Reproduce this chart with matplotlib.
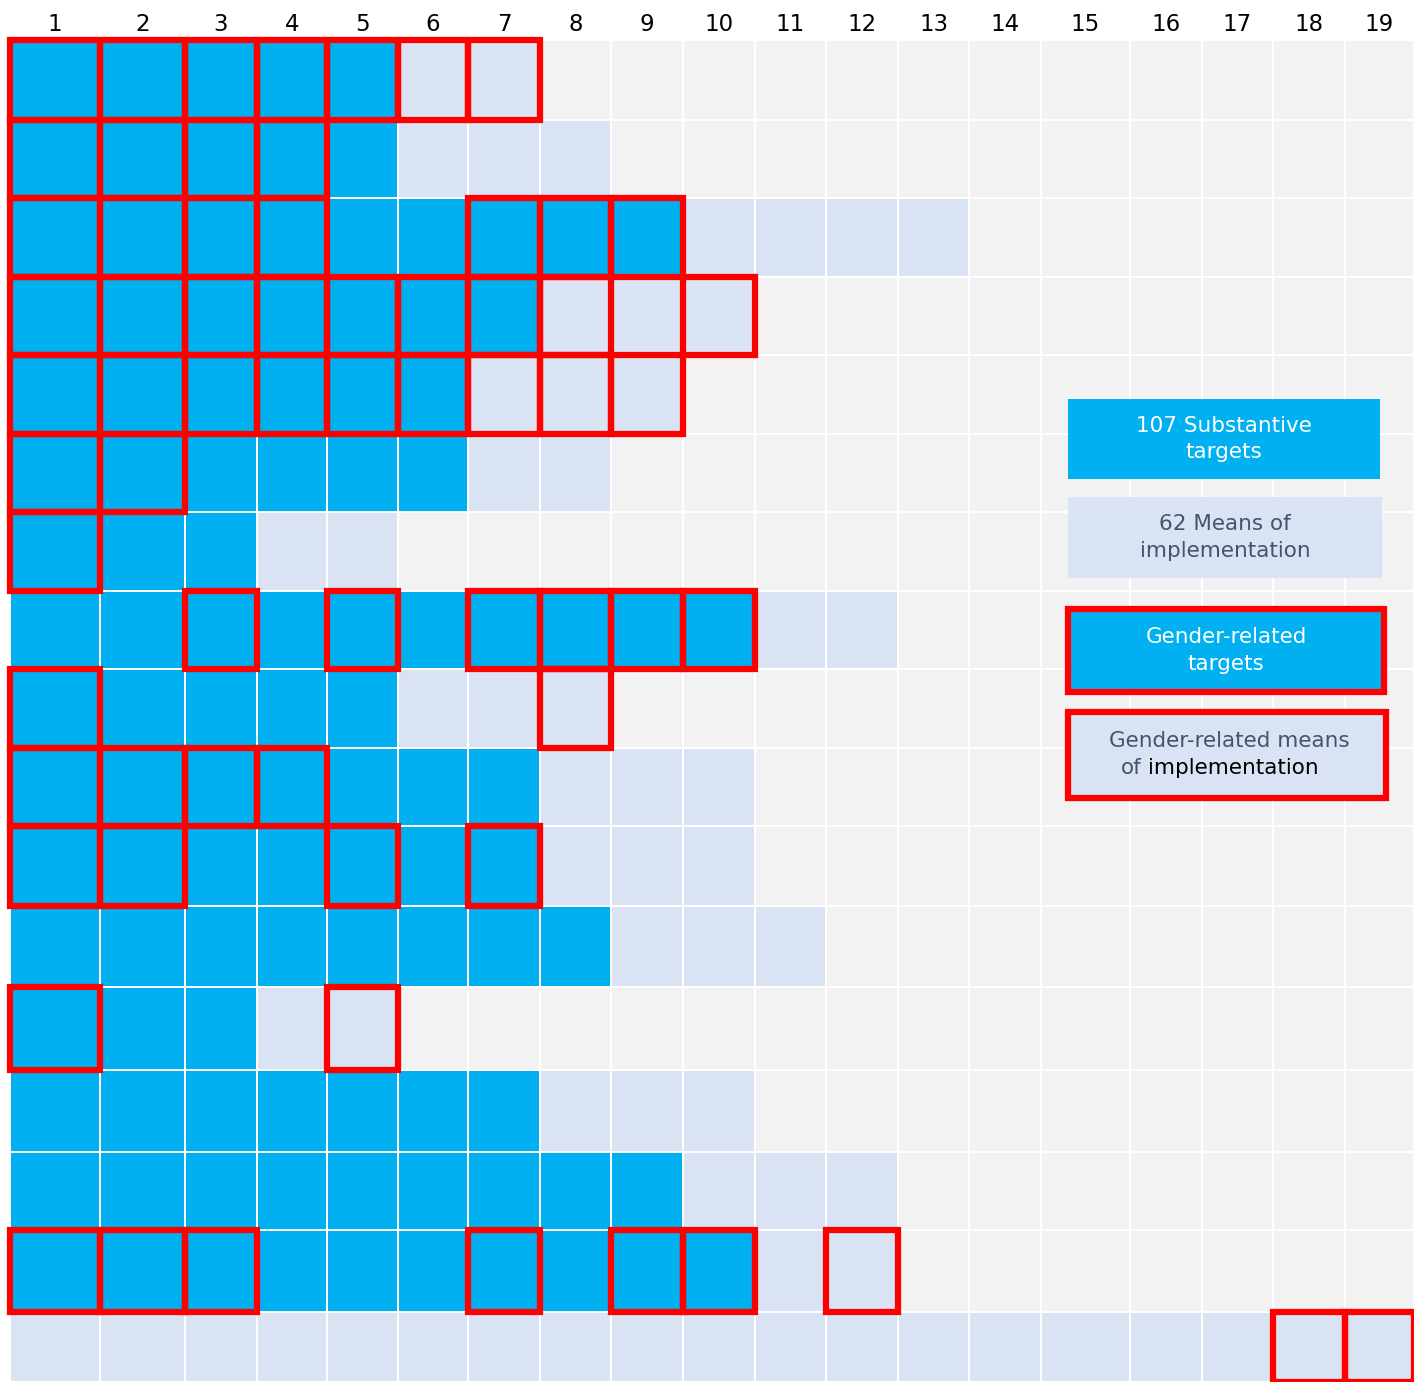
import matplotlib.pyplot as plt
from matplotlib.patches import Rectangle

# ---------------------------- data ----------------------------------------
goals = list(range(1, 18))           # rows, top to bottom
columns = list(range(1, 20))         # column headers
targets = [5, 5, 9, 7, 6, 6, 3, 10, 5, 7, 7, 8, 3, 7, 9, 10, 0]     # substantive targets per goal
means = [2, 3, 4, 3, 3, 2, 2, 2, 3, 3, 3, 3, 2, 3, 3, 2, 19]        # means of implementation per goal
gender_cells = [
    [1, 2, 3, 4, 5, 6, 7],
    [1, 2, 3, 4],
    [1, 2, 3, 4, 7, 8, 9],
    [1, 2, 3, 4, 5, 6, 7, 8, 10],
    [1, 2, 3, 4, 5, 6, 7, 8, 9],
    [1, 2],
    [1],
    [3, 5, 7, 8, 9, 10],
    [1, 8],
    [1, 2, 3, 4],
    [1, 2, 5, 7],
    [],
    [1, 5],
    [],
    [],
    [1, 2, 3, 7, 9, 10, 12],
    [18, 19],
]
dashed_cells = [(4, 9)]
legend_labels = ['107 Substantive\ntargets', '62 Means of\nimplementation',
                 'Gender-related\ntargets', 'Gender-related means']

# ---------------------------- layout --------------------------------------
W, H = 1414, 1382
x_edges = [10, 100, 185, 257, 327, 398, 468, 540, 611, 683, 755, 826, 898,
           969, 1041, 1130, 1202, 1273, 1345, 1414]
y_edges = [40, 120, 198, 277, 355, 434, 512, 591, 669, 748, 826, 906, 987,
           1070, 1152, 1230, 1312, 1382]

BLUE = '#00B0F0'
LIGHT = '#DAE3F3'
GREY = '#F2F2F2'
RED = '#FF0000'
TXT = '#44546A'
FONT = 'DejaVu Sans'

fig = plt.figure(figsize=(W / 100, H / 100), dpi=100)
ax = fig.add_axes([0, 0, 1, 1])
ax.set_xlim(0, W)
ax.set_ylim(H, 0)
ax.axis('off')

# cells
for r, g in enumerate(goals):
    y0, y1 = y_edges[r], y_edges[r + 1]
    for c in columns:
        x0, x1 = x_edges[c - 1], x_edges[c]
        if c <= targets[r]:
            col = BLUE
        elif c <= targets[r] + means[r]:
            col = LIGHT
        else:
            col = GREY
        ax.add_patch(Rectangle((x0 + 1, y0 + 1), x1 - x0 - 2, y1 - y0 - 2,
                               fc=col, ec='none'))

# gender-related borders
for r, cells in enumerate(gender_cells):
    y0, y1 = y_edges[r], y_edges[r + 1]
    for c in cells:
        x0, x1 = x_edges[c - 1], x_edges[c]
        ax.add_patch(Rectangle((x0, y0), x1 - x0, y1 - y0, fill=False,
                               ec=RED, lw=4.5, joinstyle='miter', zorder=3))
for r, c in dashed_cells:
    x0, x1 = x_edges[c - 1], x_edges[c]
    y0, y1 = y_edges[r - 1], y_edges[r]
    ax.add_patch(Rectangle((x0, y0), x1 - x0, y1 - y0, fill=False,
                           ec=RED, lw=1, ls=(0, (3, 2)), zorder=3))

# column headers
for c in columns:
    xc = (x_edges[c - 1] + x_edges[c]) / 2
    ax.text(xc, 24, str(c), ha='center', va='center', fontsize=16.5,
            family=FONT)

# legend boxes
boxes = [(1068, 399, 1380, 479, BLUE, False, 'white'),
         (1068, 497, 1382, 578, LIGHT, False, TXT),
         (1068, 609, 1384, 692, BLUE, True, 'white'),
         (1068, 712, 1386, 798, LIGHT, True, TXT)]
for (x0, y0, x1, y1, fc, red, tc), lab in zip(boxes, legend_labels):
    ax.add_patch(Rectangle((x0, y0), x1 - x0, y1 - y0, fc=fc,
                           ec=RED if red else 'none', lw=4.5 if red else 0,
                           joinstyle='miter', zorder=4))
    xc, yc = (x0 + x1) / 2, (y0 + y1) / 2
    if lab == 'Gender-related means':
        ax.text(xc + 2, yc - 14, lab, ha='center', va='center', fontsize=15.5,
                color=tc, family=FONT, zorder=5)
        ax.text(1142, yc + 13, 'of', ha='right', va='center', fontsize=15.5,
                color=tc, family=FONT, zorder=5)
        ax.text(1148, yc + 13, 'implementation', ha='left', va='center',
                fontsize=15.5, color='black', family=FONT, zorder=5)
    else:
        ax.text(xc, yc, lab, ha='center', va='center', fontsize=15.5,
                color=tc, family=FONT, linespacing=1.4, zorder=5)

plt.savefig('out.png', dpi=100)
